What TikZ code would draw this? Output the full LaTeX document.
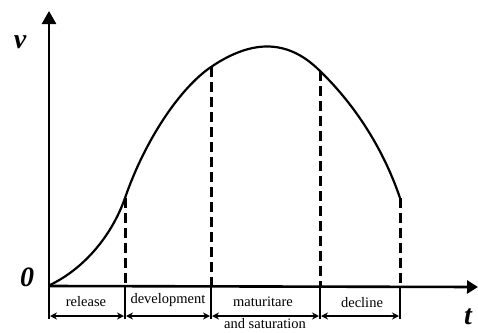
\documentclass[tikz,border=0pt]{standalone}
\usepackage{fontspec}
\setmainfont{Liberation Serif}
\usetikzlibrary{arrows.meta}
\begin{document}
\begin{tikzpicture}[x=1pt,y=-1pt,
  axis/.style={line width=2.6pt},
  curve/.style={line width=2.2pt},
  divider/.style={line width=3pt,dash pattern=on 10pt off 5pt},
  tick/.style={line width=2.4pt},
  phase/.style={line width=1.8pt,{Stealth[length=7pt,width=7pt]}-{Stealth[length=7pt,width=7pt]}, shorten <=1pt, shorten >=1pt},
  biglab/.style={font=\fontsize{28}{30}\selectfont\bfseries\itshape, inner sep=0pt},
  phaselab/.style={font=\fontsize{14.5}{15}\selectfont, inner sep=0pt}]
\useasboundingbox (0,0) rectangle (478,332);
% axes
\coordinate (o) at (49,286);
\coordinate (ytop) at (49,11);
\coordinate (xend) at (478,287);
\coordinate (obot) at (49,319);
\draw[axis,-{Triangle[length=13pt,width=14pt]}] (o) -- (ytop);
\draw[axis,-{Triangle[length=11pt,width=13pt]}] (o) -- (xend);
\draw[tick] (o) -- (obot);
% division points
\foreach \i/\x/\y in {1/125/198,2/211/67,3/320/71,4/400/198}{
  \coordinate (p\i) at (\x,\y);
  \coordinate (b\i) at (\x,286);
  \coordinate (e\i) at (\x,319);
  \draw[divider] (p\i) -- (b\i);
  \draw[tick] (b\i) -- (e\i);
}
% curve
\coordinate (c0) at (50,285);
\draw[curve] (c0) .. controls (85,268) and (112,235) .. (p1)
  .. controls (145,140) and (180,88) .. (p2)
  .. controls (248,42) and (285,36) .. (p3)
  .. controls (352,102) and (382,145) .. (p4);
% phase arrows
\coordinate (a0) at (49,316);
\coordinate (a1) at (125,316);
\coordinate (a2) at (211,316);
\coordinate (a3) at (320,316);
\coordinate (a4) at (400,316);
\draw[phase] (a0) -- (a1);
\draw[phase] (a1) -- (a2);
\draw[phase] (a2) -- (a3);
\draw[phase] (a3) -- (a4);
% labels
\node[biglab] (v) at (20,42) {v};
\node[biglab] (zero) at (27,277) {0};
\node[biglab] (t) at (468,317) {t};
\node[phaselab] (rel) at (86,302) {release};
\node[phaselab] (dev) at (168,300) {development};
\node[phaselab] (mat) at (263,302) {maturitare};
\node[phaselab] (sat) at (265,324) {and saturation};
\node[phaselab] (dec) at (362,303) {decline};
\end{tikzpicture}
\end{document}
